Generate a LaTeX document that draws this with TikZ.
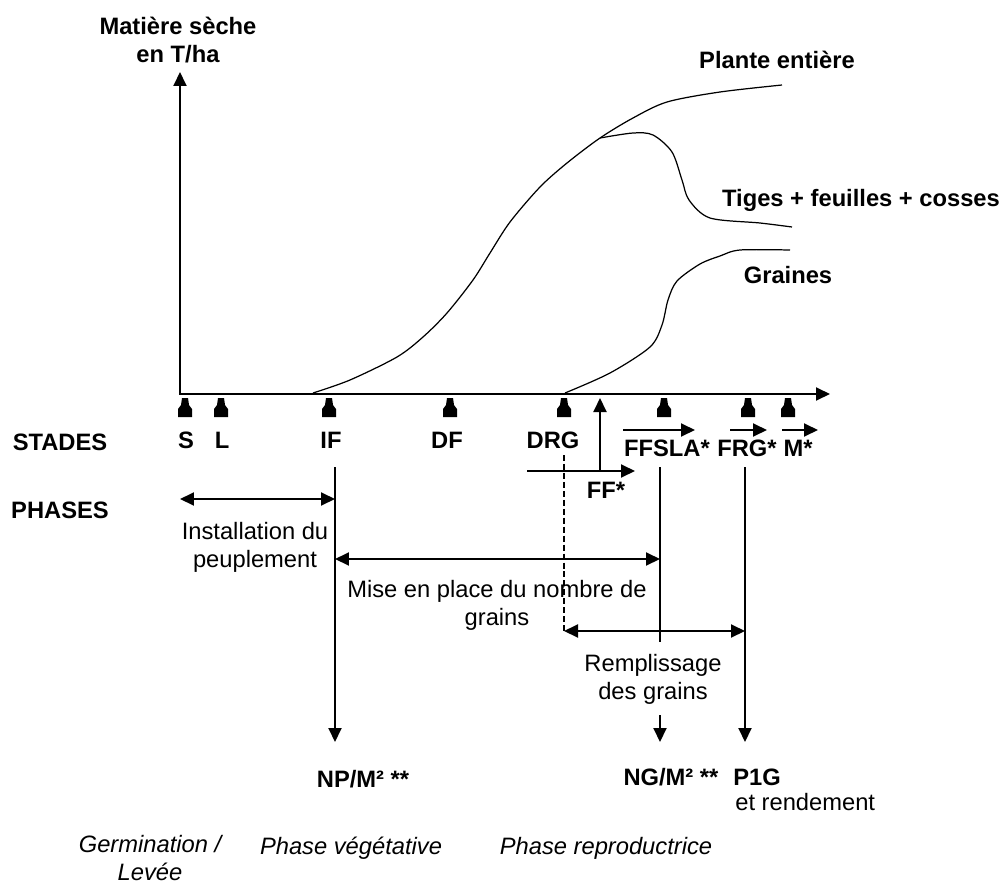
\documentclass[tikz,border=0pt]{standalone}
\usepackage{fontspec}
\setmainfont{Liberation Sans}
\usetikzlibrary{arrows.meta}

\tikzset{
  fleche/.style={line width=1.1pt,-{Triangle[length=2.8mm,width=2.6mm]}},
  dfleche/.style={line width=1.1pt,{Triangle[length=2.8mm,width=2.6mm]}-{Triangle[length=2.8mm,width=2.6mm]}},
  gras/.style={font=\fontsize{13.5}{16}\selectfont\bfseries, inner sep=0pt, align=center},
  texte/.style={font=\fontsize{13.5}{16}\selectfont, inner sep=0pt, align=center},
  ital/.style={font=\fontsize{13.5}{16}\selectfont\itshape, inner sep=0pt, align=center},
  courbe/.style={line width=0.7pt},
  pion/.pic={\fill (-3,3) -- (3,3) -- (4,10) -- (7,14) -- (7,22) -- (-7,22) -- (-7,14) -- (-4,10) -- cycle;}
}

\begin{document}
\begin{tikzpicture}[x=0.02cm,y=-0.02cm]
  \useasboundingbox (0,0) rectangle (1005,886);

  % axes
  \coordinate (ytop) at (180,72);
  \coordinate (xend) at (830,394);
  \draw[dfleche] (ytop) |- (xend);
  \node[gras] (ylab) at (178,40) {Matière sèche\\en T/ha};

  % courbes
  \draw[courbe] plot[smooth] coordinates {(313,393) (350,380) (397,357) (423,337) (447,313)
    (473,280) (490,253) (510,222) (540,187) (567,163) (600,138) (633,118) (667,102) (720,92) (782,85)};
  \draw[courbe] plot[smooth] coordinates {(600,138) (633,133) (653,135) (672,152) (682,180)
    (689,200) (710,218) (760,223) (792,227)};
  \draw[courbe] plot[smooth] coordinates {(565,393) (610,373) (650,347) (662,325) (668,300)
    (677,281) (700,264) (720,256) (740,250) (790,250)};
  \node[gras] (plante) at (777,60) {Plante entière};
  \node[gras] (tiges) at (861,200) {Tiges + feuilles + cosses};
  \node[gras] (graines) at (788,275) {Graines};

  % stades
  \foreach \x in {185,221,329,450,564,664,748,788}
    \pic at (\x,395) {pion};
  \node[gras] (stades) at (60,442) {STADES};
  \node[gras] (s) at (186,440) {S};
  \node[gras] (l) at (222,440) {L};
  \node[gras] (if) at (331,440) {IF};
  \node[gras] (df) at (447,440) {DF};
  \node[gras] (drg) at (553,440) {DRG};
  \node[gras] (ffsla) at (667,448) {FFSLA*};
  \node[gras] (frg) at (747,448) {FRG*};
  \node[gras] (m) at (798,448) {M*};
  \node[gras] (ff) at (606,490) {FF*};

  \coordinate (ffsla1) at (623,430);
  \coordinate (ffsla2) at (695,430);
  \coordinate (frg1) at (730,430);
  \coordinate (frg2) at (767,430);
  \coordinate (m1) at (782,430);
  \coordinate (m2) at (818,430);
  \draw[fleche] (ffsla1) -- (ffsla2);
  \draw[fleche] (frg1) -- (frg2);
  \draw[fleche] (m1) -- (m2);

  \coordinate (ffg) at (527,471);
  \coordinate (ffd) at (635,471);
  \coordinate (ffh) at (600,398);
  \draw[fleche] (ffg) -- (ffd);
  \draw[fleche] (ffg -| ffh) -- (ffh);

  % phases
  \node[gras] (phases) at (60,510) {PHASES};
  \coordinate (p0) at (180,499);
  \coordinate (v1) at (335,467);
  \coordinate (v2) at (335,742);
  \coordinate (v3) at (660,467);
  \coordinate (v4) at (660,642);
  \coordinate (v5) at (660,715);
  \coordinate (v6) at (660,742);
  \coordinate (v7) at (745,467);
  \coordinate (v8) at (745,742);
  \coordinate (d1) at (564,455);
  \coordinate (d2) at (564,631);

  \draw[dfleche] (p0) -- (p0 -| v1);
  \draw[fleche] (v1) -- (v2);
  \draw[line width=1.1pt] (v3) -- (v4);
  \draw[fleche] (v5) -- (v6);
  \draw[fleche] (v7) -- (v8);
  \draw[dfleche] (335,559) -- (660,559);
  \draw[line width=1.1pt, dash pattern=on 3.4pt off 1.7pt] (d1) -- (d2);
  \draw[dfleche] (d2) -- (d2 -| v7);

  \node[texte] (inst) at (255,547) {Installation du\\peuplement};
  \node[texte] (mise) at (497,605) {Mise en place du nombre de\\grains};
  \node[texte] (remp) at (653,679) {Remplissage\\des grains};

  % resultats
  \node[gras] (np) at (363,779) {NP/M² **};
  \node[gras] (ng) at (671,777) {NG/M² **};
  \node[gras, anchor=west] (p1g) at (733,777) {P1G};
  \node[texte, anchor=west] (rend) at (735,802) {et rendement};

  \node[ital] (germ) at (150,858) {Germination /\\Levée};
  \node[ital] (veg) at (351,848) {Phase végétative};
  \node[ital] (repro) at (606,848) {Phase reproductrice};
\end{tikzpicture}
\end{document}
